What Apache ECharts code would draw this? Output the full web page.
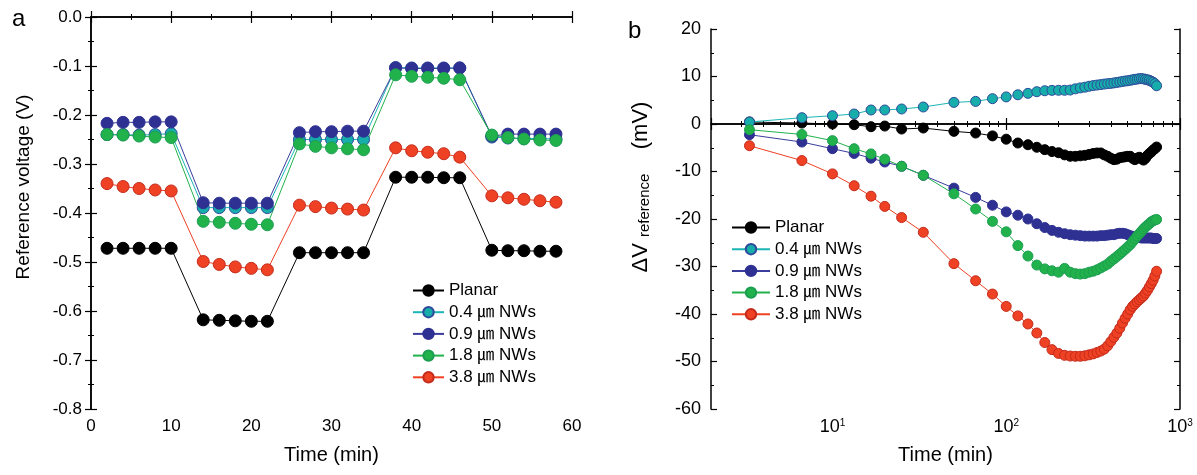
<!DOCTYPE html>
<html>
<head>
<meta charset="utf-8">
<script src="https://cdn.jsdelivr.net/npm/echarts@6/dist/echarts.min.js"></script>
<style>
html,body{margin:0;padding:0;background:#fff;}
#chart{width:1197px;height:475px;}
</style>
</head>
<body>
<div id="chart"></div>
<script>
// ---------- Data ----------
var seriesNames = ['Planar', '0.4 ㎛ NWs', '0.9 ㎛ NWs', '1.8 ㎛ NWs', '3.8 ㎛ NWs'];

// Panel a: reference voltage (V) vs time (min)
var leftTime = [2, 4, 6, 8, 10, 14, 16, 18, 20, 22, 26, 28, 30, 32, 34, 38, 40, 42, 44, 46, 50, 52, 54, 56, 58];
var planarV = [-0.472, -0.472, -0.472, -0.472, -0.472, -0.618, -0.619, -0.620, -0.621, -0.621, -0.481, -0.481, -0.481, -0.481, -0.481, -0.327, -0.327, -0.327, -0.328, -0.328, -0.476, -0.477, -0.477, -0.478, -0.478];
var nw04V = [-0.240, -0.240, -0.241, -0.240, -0.238, -0.389, -0.389, -0.389, -0.389, -0.389, -0.250, -0.250, -0.250, -0.250, -0.250, -0.103, -0.104, -0.104, -0.104, -0.104, -0.245, -0.247, -0.248, -0.248, -0.249];
var nw09V = [-0.217, -0.215, -0.215, -0.214, -0.214, -0.379, -0.380, -0.380, -0.380, -0.380, -0.236, -0.234, -0.234, -0.233, -0.233, -0.104, -0.105, -0.105, -0.105, -0.104, -0.243, -0.239, -0.239, -0.239, -0.239];
var nw18V = [-0.240, -0.241, -0.243, -0.245, -0.246, -0.417, -0.419, -0.421, -0.423, -0.424, -0.259, -0.264, -0.267, -0.269, -0.271, -0.118, -0.121, -0.123, -0.125, -0.128, -0.241, -0.246, -0.249, -0.251, -0.252];
var nw38V = [-0.340, -0.346, -0.350, -0.353, -0.355, -0.499, -0.505, -0.510, -0.513, -0.516, -0.384, -0.387, -0.390, -0.392, -0.394, -0.267, -0.273, -0.276, -0.279, -0.286, -0.365, -0.369, -0.372, -0.375, -0.378];

// Panel b: delta V reference (mV) vs time (min, log)
var rightTime = [3.33, 6.67, 10, 13.33, 16.67, 20, 25, 33.33, 50, 66.67, 83.33, 100,
  116.67, 133.33, 150, 166.67, 183.33, 200, 216.67, 233.33, 250, 266.67,
  283.33, 300, 316.67, 333.33, 350, 366.67, 383.33, 400, 416.67, 433.33,
  450, 466.67, 483.33, 500, 516.67, 533.33, 550, 566.67, 583.33, 600,
  616.67, 633.33, 650, 666.67, 683.33, 700, 716.67, 733.33];
var planarD = [0.42, 0.2, 0.0, -0.15, -0.57, -0.43, -1.06, -0.85, -1.55, -1.9, -2.5, -3.2,
  -4.0, -4.36, -4.9, -5.4, -5.8, -6.05, -6.5, -6.8, -6.8, -6.7,
  -6.6, -6.4, -6.2, -6.1, -6.1, -6.5, -6.8, -7.2, -7.5, -7.4,
  -7.1, -7.0, -6.9, -6.8, -6.8, -7.2, -7.5, -7.2, -7.0, -7.3,
  -7.6, -7.2, -6.6, -6.2, -5.9, -5.5, -5.2, -4.85];
var nw04D = [0.42, 1.33, 1.75, 2.1, 2.95, 2.95, 3.16, 3.58, 4.55, 4.76, 5.33, 5.7,
  6.15, 6.45, 6.8, 7.0, 7.08, 7.1, 7.1, 7.15, 7.4, 7.6,
  7.75, 7.95, 8.1, 8.2, 8.3, 8.4, 8.5, 8.55, 8.65, 8.75,
  8.85, 8.95, 9.05, 9.1, 9.2, 9.3, 9.4, 9.45, 9.55, 9.55,
  9.5, 9.4, 9.3, 9.2, 9.0, 8.8, 8.5, 8.05];
var nw09D = [-2.25, -3.8, -5.2, -6.2, -7.2, -8.0, -8.9, -10.8, -13.5, -15.45, -17.1, -18.5,
  -19.2, -20.0, -21.0, -21.8, -22.4, -22.8, -23.1, -23.3, -23.4, -23.5,
  -23.6, -23.6, -23.6, -23.6, -23.5, -23.5, -23.4, -23.3, -23.3, -23.1,
  -23.0, -23.0, -23.1, -23.3, -23.5, -23.7, -23.8, -23.9, -23.9, -24.0,
  -24.0, -24.0, -24.0, -24.0, -24.0, -24.1, -24.1, -24.1];
var nw18D = [-1.2, -2.2, -3.5, -5.2, -6.3, -7.4, -8.9, -10.8, -14.7, -17.9, -20.5, -22.7,
  -25.6, -27.8, -29.7, -30.5, -30.9, -31.2, -30.4, -31.2, -31.5, -31.6,
  -31.5, -31.2, -31.0, -30.7, -30.3, -29.9, -29.5, -28.9, -28.4, -27.9,
  -27.4, -26.9, -26.4, -25.9, -25.4, -24.8, -24.2, -23.6, -23.1, -22.6,
  -22.1, -21.7, -21.3, -21.0, -20.6, -20.4, -20.2, -20.1];
var nw38D = [-4.57, -7.7, -10.5, -13.0, -15.2, -17.35, -19.7, -22.8, -29.4, -33.0, -35.8, -38.4,
  -40.4, -42.1, -44.0, -46.0, -47.5, -48.3, -48.7, -48.85, -48.9, -48.9,
  -48.8, -48.6, -48.4, -48.1, -47.8, -47.4, -46.7, -45.8, -44.9, -44.0,
  -43.0, -41.9, -40.9, -40.0, -39.1, -38.4, -37.9, -37.4, -37.0, -36.6,
  -36.2, -35.6, -35.0, -34.3, -33.6, -32.9, -32.0, -31.0];

// ---------- Styles ----------
var FONT = '"Liberation Sans", Arial, "Noto Sans CJK KR", sans-serif';
var fills   = ['#000000', '#17adab', '#2e3192', '#22b24c', '#ef4123'];
var borders = ['#000000', '#2e4a9c', '#2e3192', '#1c9e52', '#c42b1c'];
var lines   = ['#000000', '#1cb5b5', '#3a3d9c', '#22b24c', '#ef4123'];

function zip(xs, ys) { return xs.map(function (x, i) { return [x, ys[i]]; }); }

function mkSeries(name, idx, xs, ys, axisIdx, size) {
  return {
    type: 'line', name: name,
    xAxisIndex: axisIdx, yAxisIndex: axisIdx,
    data: zip(xs, ys),
    symbol: 'circle', symbolSize: size,
    showAllSymbol: true,
    lineStyle: { color: lines[idx], width: 1 },
    itemStyle: { color: fills[idx], borderColor: borders[idx], borderWidth: 1 },
    emphasis: { disabled: true },
    animation: false
  };
}

var leftY = [planarV, nw04V, nw09V, nw18V, nw38V];
var rightY = [planarD, nw04D, nw09D, nw18D, nw38D];
var series = [];
seriesNames.forEach(function (n, i) { series.push(mkSeries(n, i, leftTime, leftY[i], 0, 12)); });
seriesNames.forEach(function (n, i) { series.push(mkSeries(n, i, rightTime, rightY[i], 2, 10)); });

var axLine = { show: true, lineStyle: { color: '#000', width: 1.5 } };
var tickIn = { show: true, inside: true, length: 6, lineStyle: { color: '#000', width: 1.2 } };
var minorIn = { show: true, length: 3, lineStyle: { color: '#000', width: 1 } };
var lbl = { color: '#000', fontSize: 17, fontFamily: FONT };

function plainX(grid, pos, show) {
  return {
    type: 'value', gridIndex: grid, position: pos, min: 0, max: 60, interval: 10,
    axisLine: axLine, axisTick: tickIn, minorTick: Object.assign({ splitNumber: 2 }, minorIn),
    splitLine: { show: false },
    axisLabel: show ? Object.assign({ margin: 9 }, lbl) : { show: false },
    name: show ? 'Time (min)' : '', nameLocation: 'middle', nameGap: 36,
    nameTextStyle: { color: '#000', fontSize: 20, fontFamily: FONT }
  };
}
function logX(grid, pos, show) {
  return {
    type: 'log', logBase: 10, gridIndex: grid, position: pos, min: 2, max: 1000,
    axisLine: axLine, axisTick: tickIn, minorTick: Object.assign({ splitNumber: 9 }, minorIn),
    splitLine: { show: false },
    axisLabel: show ? {
      margin: 9,
      formatter: function (v) {
        var e = Math.round(Math.log10(v));
        if (Math.abs(v - Math.pow(10, e)) > 1e-6 || e < 1) return '';
        return '{b|10}{s|' + e + '}';
      },
      rich: {
        b: { color: '#000', fontSize: 18, fontFamily: FONT },
        s: { color: '#000', fontSize: 10, fontFamily: FONT, verticalAlign: 'top' }
      }
    } : { show: false },
    name: show ? 'Time (min)' : '', nameLocation: 'middle', nameGap: 36,
    nameTextStyle: { color: '#000', fontSize: 20, fontFamily: FONT }
  };
}

var option = {
  backgroundColor: '#fff',
  animation: false,
  title: [
    { text: 'a', left: 7, top: 2, textStyle: { fontSize: 24, fontWeight: 'normal', color: '#000', fontFamily: FONT } },
    { text: 'b', left: 623, top: 14, textStyle: { fontSize: 24, fontWeight: 'normal', color: '#000', fontFamily: FONT } }
  ],
  grid: [
    { left: 91, right: 625, top: 17, bottom: 66 },
    { left: 711, right: 17, top: 29, bottom: 66 }
  ],
  xAxis: [
    plainX(0, 'bottom', true),
    plainX(0, 'top', false),
    logX(1, 'bottom', true),
    logX(1, 'top', false)
  ],
  yAxis: [
    {
      type: 'value', gridIndex: 0, position: 'left', min: -0.8, max: 0, interval: 0.1,
      axisLine: axLine, axisTick: tickIn, minorTick: Object.assign({ splitNumber: 2 }, minorIn),
      splitLine: { show: false },
      axisLabel: Object.assign({ margin: 9, formatter: function (v) { return v.toFixed(1); } }, lbl),
      name: 'Reference voltage (V)', nameLocation: 'middle', nameGap: 58,
      nameTextStyle: { color: '#000', fontSize: 19, fontFamily: FONT, padding: [0, 0, 0, 52] }
    },
    {
      type: 'value', gridIndex: 0, position: 'right', min: -0.8, max: 0, interval: 0.1,
      axisLine: axLine, axisTick: tickIn, minorTick: Object.assign({ splitNumber: 2 }, minorIn),
      splitLine: { show: false }, axisLabel: { show: false }
    },
    {
      type: 'value', gridIndex: 1, position: 'left', min: -60, max: 20, interval: 10,
      axisLine: axLine, axisTick: tickIn, minorTick: Object.assign({ splitNumber: 2 }, minorIn),
      splitLine: { show: false },
      axisLabel: Object.assign({ margin: 10 }, lbl, { fontSize: 18 }),
      name: '{a|ΔV}{s|reference}{a|    (mV)}', nameLocation: 'middle', nameGap: 59,
      nameTextStyle: {
        padding: [0, 0, 0, 64],
        rich: {
          a: { color: '#000', fontSize: 22, fontFamily: FONT },
          s: { color: '#000', fontSize: 15, fontFamily: FONT, verticalAlign: 'bottom', padding: [0, 0, 0, 6] }
        }
      }
    },
    {
      type: 'value', gridIndex: 1, position: 'right', min: -60, max: 20, interval: 10,
      axisLine: axLine, axisTick: tickIn, minorTick: Object.assign({ splitNumber: 2 }, minorIn),
      splitLine: { show: false }, axisLabel: { show: false }
    }
  ],
  legend: [
    {
      data: seriesNames, orient: 'vertical', left: 407, top: 277,
      itemWidth: 31, itemHeight: 13, itemGap: 4.7, selectedMode: false,
      textStyle: { color: '#000', fontSize: 17, fontFamily: FONT }
    },
    {
      data: seriesNames, orient: 'vertical', left: 726, top: 214,
      itemWidth: 38, itemHeight: 13, itemGap: 4.7, selectedMode: false,
      textStyle: { color: '#000', fontSize: 17, fontFamily: FONT }
    }
  ],
  series: series
};

var chart = echarts.init(document.getElementById('chart'), null, { renderer: 'canvas' });
chart.setOption(option);
</script>
</body>
</html>
